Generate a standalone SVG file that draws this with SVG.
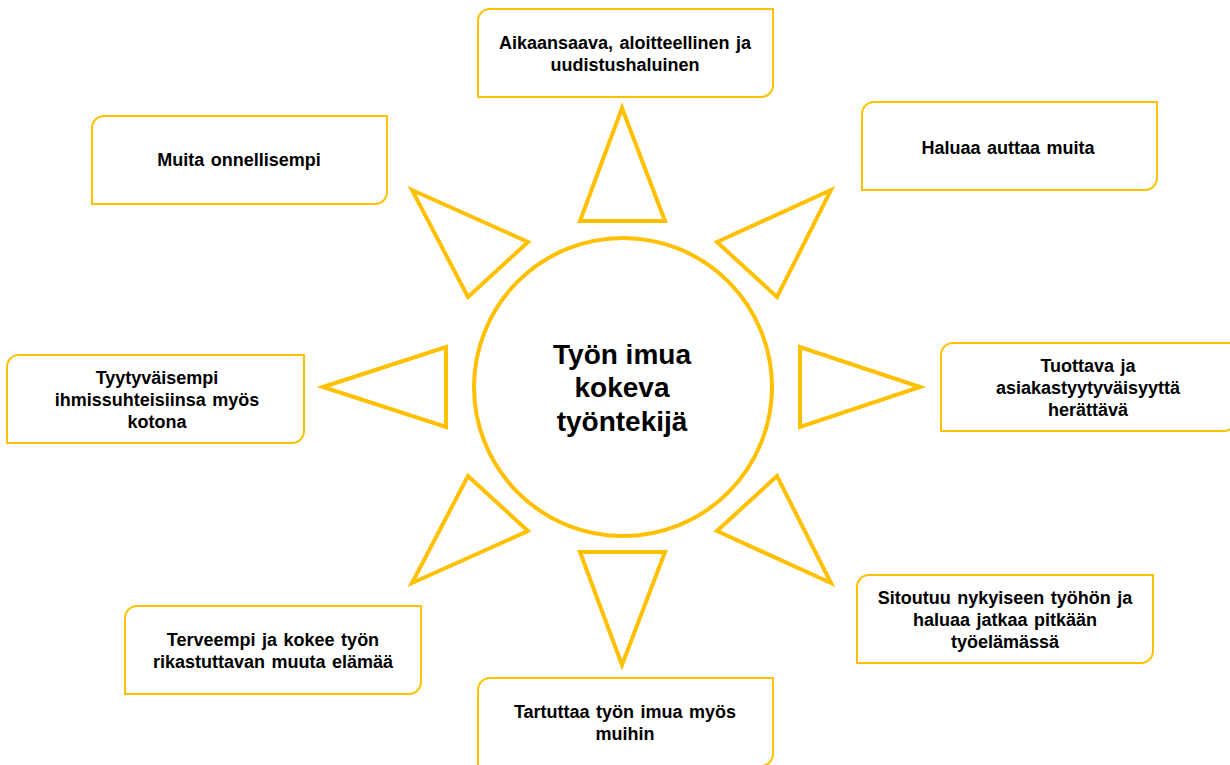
<svg xmlns="http://www.w3.org/2000/svg" width="1230" height="765" viewBox="0 0 1230 765">
<style>
.box{fill:#fff;stroke:#FFC000;stroke-width:2}
.tri{fill:#fff;stroke:#FFC000;stroke-width:4;stroke-linejoin:miter}
.t{font-family:"Liberation Sans",Arial,sans-serif;font-weight:bold;font-size:18px;word-spacing:1.5px;fill:#000;text-anchor:middle}
.c{font-family:"Liberation Sans",Arial,sans-serif;font-weight:bold;font-size:28px;fill:#000;text-anchor:middle}
</style>
<rect width="1230" height="765" fill="#fff"/>
<g id="rays">
<polygon class="tri" points="622,108 580,221 665,221"/>
<polygon class="tri" points="622,665 580,552 665,552"/>
<polygon class="tri" points="412,190 528,242 468,297"/>
<polygon class="tri" points="831,190 717,242 777,297"/>
<polygon class="tri" points="323,387 446,347 446,427"/>
<polygon class="tri" points="920,387 800,347 800,427"/>
<polygon class="tri" points="412,583 528,531 468,476"/>
<polygon class="tri" points="831,583 717,531 777,476"/>
</g>
<g id="center">
<circle cx="623" cy="387" r="149" fill="#fff" stroke="#FFC000" stroke-width="4"/>
<text class="c" x="622" y="364">Työn imua</text>
<text class="c" x="622" y="397">kokeva</text>
<text class="c" x="622" y="431">työntekijä</text>
</g>
<g id="n1">
<path class="box" d="M490,9 H773 V85 A12,12 0 0 1 761,97 H478 V21 A12,12 0 0 1 490,9 Z"/>
<text class="t" x="625" y="49">Aikaansaava, aloitteellinen ja</text>
<text class="t" x="625" y="71">uudistushaluinen</text>
</g>
<g id="n2">
<path class="box" d="M104,116 H387 V192 A12,12 0 0 1 375,204 H92 V128 A12,12 0 0 1 104,116 Z"/>
<text class="t" x="239" y="166">Muita onnellisempi</text>
</g>
<g id="n3">
<path class="box" d="M874,102 H1157 V178 A12,12 0 0 1 1145,190 H862 V114 A12,12 0 0 1 874,102 Z"/>
<text class="t" x="1008" y="154">Haluaa auttaa muita</text>
</g>
<g id="n4">
<path class="box" d="M953,343 H1236 V419 A12,12 0 0 1 1224,431 H941 V355 A12,12 0 0 1 953,343 Z"/>
<text class="t" x="1088" y="372">Tuottava ja</text>
<text class="t" x="1088" y="394">asiakastyytyväisyyttä</text>
<text class="t" x="1088" y="416">herättävä</text>
</g>
<g id="n5">
<path class="box" d="M19,355 H304 V431 A12,12 0 0 1 292,443 H7 V367 A12,12 0 0 1 19,355 Z"/>
<text class="t" x="157" y="384">Tyytyväisempi</text>
<text class="t" x="157" y="406">ihmissuhteisiinsa myös</text>
<text class="t" x="157" y="428">kotona</text>
</g>
<g id="n6">
<path class="box" d="M869,575 H1153 V651 A12,12 0 0 1 1141,663 H857 V587 A12,12 0 0 1 869,575 Z"/>
<text class="t" x="1005" y="604">Sitoutuu nykyiseen työhön ja</text>
<text class="t" x="1005" y="626">haluaa jatkaa pitkään</text>
<text class="t" x="1005" y="648">työelämässä</text>
</g>
<g id="n7">
<path class="box" d="M137,606 H421 V682 A12,12 0 0 1 409,694 H125 V618 A12,12 0 0 1 137,606 Z"/>
<text class="t" x="273" y="646">Terveempi ja kokee työn</text>
<text class="t" x="273" y="668">rikastuttavan muuta elämää</text>
</g>
<g id="n8">
<path class="box" d="M490,678 H773 V754 A12,12 0 0 1 761,766 H478 V690 A12,12 0 0 1 490,678 Z"/>
<text class="t" x="625" y="718">Tartuttaa työn imua myös</text>
<text class="t" x="625" y="740">muihin</text>
</g>
</svg>
